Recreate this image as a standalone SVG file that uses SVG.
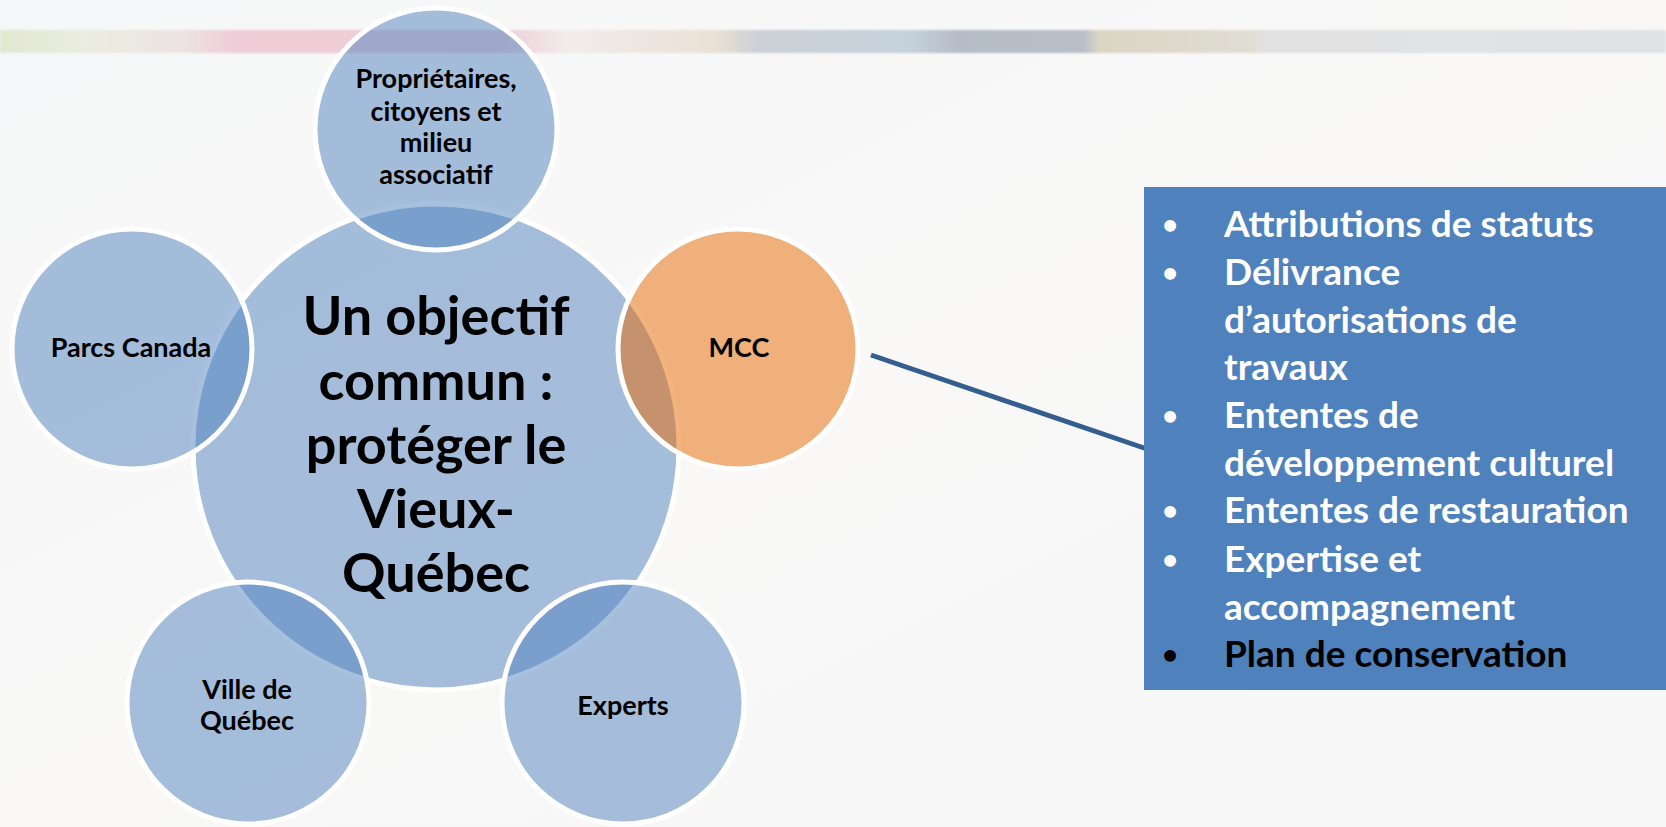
<svg xmlns="http://www.w3.org/2000/svg" width="1666" height="827" viewBox="0 0 1666 827">
  <defs>
    <linearGradient id="stripe" x1="0" y1="0" x2="1666" y2="0" gradientUnits="userSpaceOnUse">
      <stop offset="0" stop-color="#E2E7D0"/>
      <stop offset="0.05" stop-color="#EAEDE0"/>
      <stop offset="0.11" stop-color="#EDE3E4"/>
      <stop offset="0.14" stop-color="#EECDD8"/>
      <stop offset="0.30" stop-color="#EECCD7"/>
      <stop offset="0.34" stop-color="#F2ECEC"/>
      <stop offset="0.43" stop-color="#E9E1D5"/>
      <stop offset="0.455" stop-color="#CCD0D6"/>
      <stop offset="0.545" stop-color="#C5D2DC"/>
      <stop offset="0.575" stop-color="#B5BCC7"/>
      <stop offset="0.65" stop-color="#B9BFC8"/>
      <stop offset="0.66" stop-color="#DBD5C3"/>
      <stop offset="0.75" stop-color="#E0DDD4"/>
      <stop offset="0.76" stop-color="#E2E2E2"/>
      <stop offset="1" stop-color="#E0E3E6"/>
    </linearGradient>
    <linearGradient id="bg" x1="0" y1="0" x2="1" y2="1">
      <stop offset="0" stop-color="#F6F7F8"/>
      <stop offset="0.5" stop-color="#F9F8F7"/>
      <stop offset="1" stop-color="#F7F7F8"/>
    </linearGradient>
    <filter id="blur" x="-5%" y="-50%" width="110%" height="200%">
      <feGaussianBlur stdDeviation="1.2"/>
    </filter>
  </defs>
  <style>
    .c-blue { fill: #4F81BD; fill-opacity: 0.5; stroke: #FFFFFF; stroke-width: 5; }
    .c-orange { fill: #E56800; fill-opacity: 0.5; stroke: #FFFFFF; stroke-width: 5; }
    .lbl { font-family: Lato, "Open Sans", sans-serif; font-weight: bold; fill: #000000; text-anchor: middle; }
    .sat { font-size: 27px; }
    .big { font-size: 54px; }
    .item { font-family: Lato, "Open Sans", sans-serif; font-weight: bold; font-size: 37px; fill: #FFFFFF; }
    .bul { font-family: Lato, "Open Sans", sans-serif; font-weight: bold; font-size: 27px; fill: #FFFFFF; text-anchor: middle; }
    .dark { fill: #000000; }
  </style>

  <!-- background -->
  <rect x="0" y="0" width="1666" height="827" fill="url(#bg)"/>
  <rect x="0" y="30" width="1666" height="23" fill="url(#stripe)" filter="url(#blur)"/>

  <!-- central node -->
  <g id="node-center">
    <circle class="c-blue" cx="436" cy="447" r="243"/>
    <text class="lbl big" x="436" y="335">Un objectif</text>
    <text class="lbl big" x="436" y="400">commun :</text>
    <text class="lbl big" x="436" y="464">protéger le</text>
    <text class="lbl big" x="436" y="528">Vieux-</text>
    <text class="lbl big" x="436" y="592">Québec</text>
  </g>

  <g id="node-proprietaires">
    <circle class="c-blue" cx="436" cy="129" r="121"/>
    <text class="lbl sat" x="436" y="88">Propriétaires,</text>
    <text class="lbl sat" x="436" y="121">citoyens et</text>
    <text class="lbl sat" x="436" y="152">milieu</text>
    <text class="lbl sat" x="436" y="184">associatif</text>
  </g>

  <g id="node-parcs">
    <circle class="c-blue" cx="132" cy="349" r="120"/>
    <text class="lbl sat" x="131" y="357">Parcs Canada</text>
  </g>

  <g id="node-mcc">
    <circle class="c-orange" cx="738" cy="349" r="120"/>
    <text class="lbl sat" x="739" y="357">MCC</text>
  </g>

  <g id="node-ville">
    <circle class="c-blue" cx="248" cy="703" r="121"/>
    <text class="lbl sat" x="247" y="699">Ville de</text>
    <text class="lbl sat" x="247" y="730">Québec</text>
  </g>

  <g id="node-experts">
    <circle class="c-blue" cx="623" cy="703" r="121"/>
    <text class="lbl sat" x="623" y="715">Experts</text>
  </g>

  <!-- connectors -->
  <g id="connectors">
    <line x1="871" y1="355" x2="1147" y2="449" stroke="#355E90" stroke-width="5"/>
  </g>

  <!-- MCC responsibilities box -->
  <g id="node-mcc-list">
    <rect x="1144" y="187" width="522" height="503" fill="#4F81BD"/>
    <text class="bul" x="1170" y="234">•</text>
    <text class="item" x="1224" y="237">Attributions de statuts</text>
    <text class="bul" x="1170" y="282">•</text>
    <text class="item" x="1224" y="285">Délivrance</text>
    <text class="item" x="1224" y="333">d’autorisations de</text>
    <text class="item" x="1224" y="380">travaux</text>
    <text class="bul" x="1170" y="425">•</text>
    <text class="item" x="1224" y="428">Ententes de</text>
    <text class="item" x="1224" y="476">développement culturel</text>
    <text class="bul" x="1170" y="520">•</text>
    <text class="item" x="1224" y="523">Ententes de restauration</text>
    <text class="bul" x="1170" y="569">•</text>
    <text class="item" x="1224" y="572">Expertise et</text>
    <text class="item" x="1224" y="620">accompagnement</text>
    <text class="bul dark" x="1170" y="664">•</text>
    <text class="item dark" x="1224" y="667">Plan de conservation</text>
  </g>
</svg>
